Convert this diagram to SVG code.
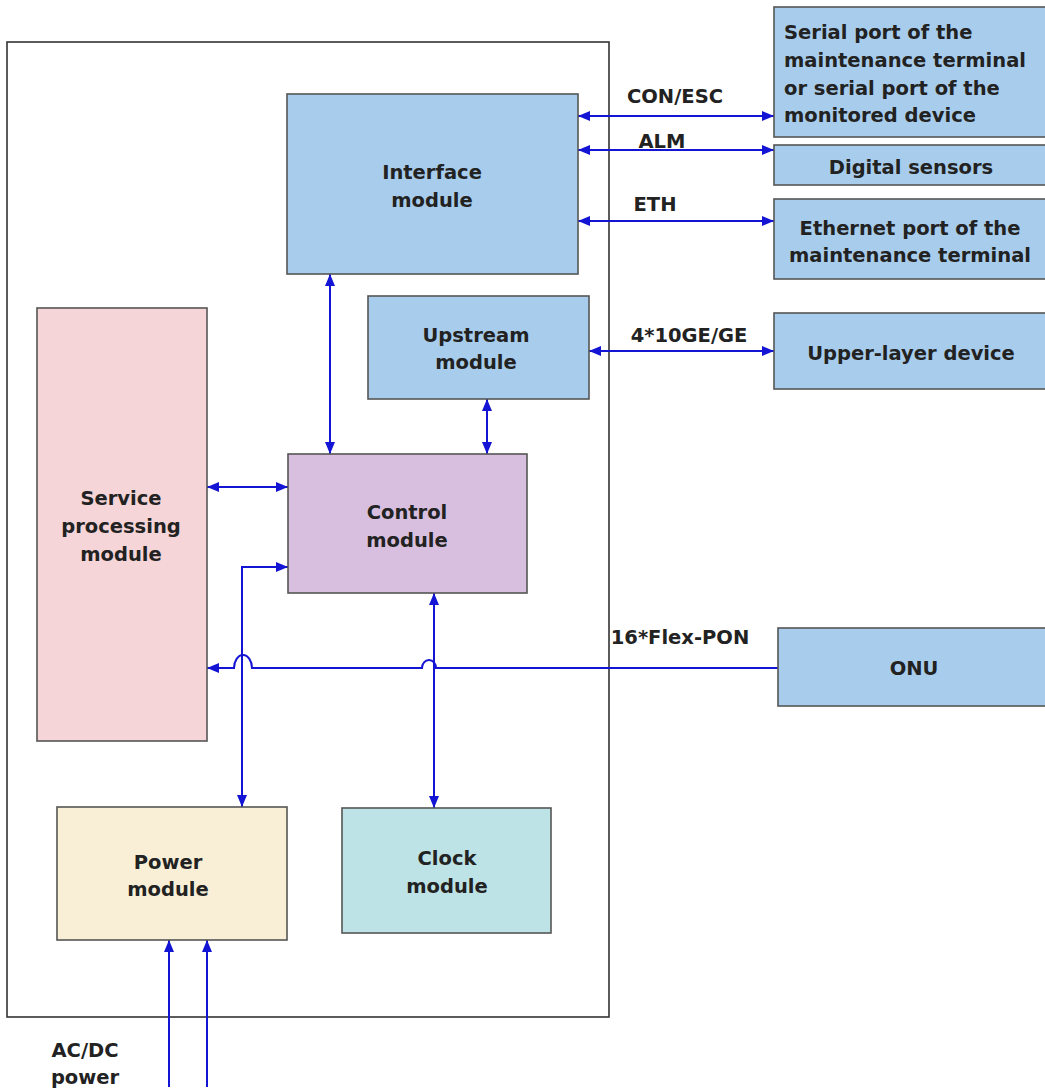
<svg xmlns="http://www.w3.org/2000/svg" width="1045" height="1091" viewBox="0 0 1045 1091">
<defs>
<marker id="ah" viewBox="0 0 12 10" refX="12" refY="5" markerWidth="12" markerHeight="10" markerUnits="userSpaceOnUse" orient="auto-start-reverse">
<path d="M0,0 L12,5 L0,10 z" fill="#1414d4"/>
</marker>
<style>
.box{stroke:#555;stroke-width:1.6}
.blue{fill:#a8cdec}
.t{font-family:"DejaVu Sans",sans-serif;font-weight:bold;font-size:19.5px;fill:#222;text-anchor:middle}
.l{text-anchor:start}
.c{fill:none;stroke:#1414d4;stroke-width:2}
.a{marker-end:url(#ah)}
.b{marker-start:url(#ah);marker-end:url(#ah)}
</style>
</defs>
<rect x="0" y="0" width="1045" height="1091" fill="#fff"/>
<rect id="frame" x="7" y="42" width="602" height="975" fill="none" stroke="#333" stroke-width="1.6"/>

<g id="connectors">
<line class="c b" x1="578" y1="116" x2="774" y2="116"/>
<line class="c b" x1="578" y1="150" x2="774" y2="150"/>
<line class="c b" x1="578" y1="221" x2="774" y2="221"/>
<line class="c b" x1="589" y1="351" x2="774" y2="351"/>
<line class="c b" x1="330" y1="274" x2="330" y2="454"/>
<line class="c b" x1="487" y1="399" x2="487" y2="454"/>
<line class="c b" x1="207" y1="487" x2="288" y2="487"/>
<path class="c b" d="M242,807 L242,567 L288,567"/>
<line class="c b" x1="434" y1="593" x2="434" y2="808"/>
<path class="c a" d="M778,668 L436,668 A7,8 0 0 0 422,668 L252,668 A9,13 0 0 0 234,668 L207,668"/>
<line class="c a" x1="169" y1="1087" x2="169" y2="940"/>
<line class="c a" x1="207" y1="1087" x2="207" y2="940"/>
<text class="t" x="675" y="103">CON/ESC</text>
<text class="t" x="662" y="148">ALM</text>
<text class="t" x="655" y="211">ETH</text>
<text class="t" x="689" y="342">4*10GE/GE</text>
<text class="t" x="680" y="644">16*Flex-PON</text>
<text class="t" x="85" y="1057">AC/DC</text>
<text class="t" x="85" y="1084">power</text>
</g>

<g id="interface">
<rect class="box blue" x="287" y="94" width="291" height="180"/>
<text class="t" x="432" y="179">Interface</text>
<text class="t" x="432" y="207">module</text>
</g>
<g id="upstream">
<rect class="box blue" x="368" y="296" width="221" height="103"/>
<text class="t" x="476" y="342">Upstream</text>
<text class="t" x="476" y="369">module</text>
</g>
<g id="service">
<rect class="box" x="37" y="308" width="170" height="433" fill="#f5d5d7"/>
<text class="t" x="121" y="505">Service</text>
<text class="t" x="121" y="533">processing</text>
<text class="t" x="121" y="561">module</text>
</g>
<g id="control">
<rect class="box" x="288" y="454" width="239" height="139" fill="#d9bfdf"/>
<text class="t" x="407" y="519">Control</text>
<text class="t" x="407" y="547">module</text>
</g>
<g id="power">
<rect class="box" x="57" y="807" width="230" height="133" fill="#f8efd6"/>
<text class="t" x="168" y="869">Power</text>
<text class="t" x="168" y="896">module</text>
</g>
<g id="clock">
<rect class="box" x="342" y="808" width="209" height="125" fill="#bde3e6"/>
<text class="t" x="447" y="865">Clock</text>
<text class="t" x="447" y="893">module</text>
</g>
<g id="serial">
<rect class="box blue" x="774" y="7" width="280" height="130"/>
<text class="t l" x="784" y="39">Serial port of the</text>
<text class="t l" x="784" y="67">maintenance terminal</text>
<text class="t l" x="784" y="95">or serial port of the</text>
<text class="t l" x="784" y="122">monitored device</text>
</g>
<g id="sensors">
<rect class="box blue" x="774" y="145" width="280" height="40"/>
<text class="t" x="911" y="174">Digital sensors</text>
</g>
<g id="ethernet">
<rect class="box blue" x="774" y="199" width="280" height="80"/>
<text class="t" x="910" y="235">Ethernet port of the</text>
<text class="t" x="910" y="262">maintenance terminal</text>
</g>
<g id="upper">
<rect class="box blue" x="774" y="313" width="280" height="76"/>
<text class="t" x="911" y="360">Upper-layer device</text>
</g>
<g id="onu">
<rect class="box blue" x="778" y="628" width="276" height="78"/>
<text class="t" x="914" y="675">ONU</text>
</g>
</svg>
